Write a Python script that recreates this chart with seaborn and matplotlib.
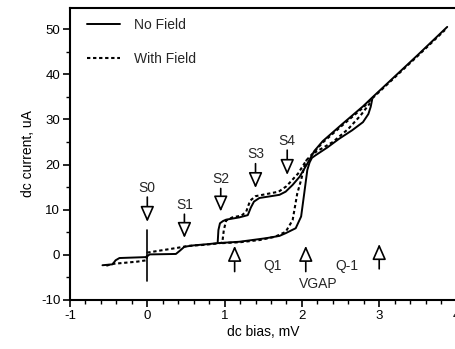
import matplotlib
matplotlib.use("Agg")
import matplotlib.pyplot as plt
import seaborn as sns

# ---- data ----
nofield_main_x = [-0.58, -0.45, -0.41, -0.36, -0.02, 0.0, 0.03, 0.37, 0.42, 0.48, 0.6, 0.8, 0.91,
                  0.92, 0.94, 0.98, 1.02, 1.19, 1.30, 1.34, 1.38, 1.45, 1.60, 1.71, 1.79, 1.88,
                  1.97, 2.07, 2.16, 2.27, 2.53, 2.79, 2.90, 3.2, 3.5, 3.88]
nofield_main_y = [-2.3, -2.1, -1.2, -0.7, -0.5, -0.3, 0.1, 0.2, 0.9, 1.8, 2.1, 2.4, 2.6,
                  5.5, 7.0, 7.5, 7.8, 8.3, 8.8, 10.5, 11.8, 12.6, 13.0, 13.3, 14.0, 15.5,
                  17.3, 20.2, 23.0, 25.2, 29.1, 32.9, 34.7, 39.5, 44.3, 50.5]
nofield_lower_x = [0.91, 1.0, 1.19, 1.54, 1.71, 1.79, 1.92, 1.99, 2.03, 2.07, 2.10, 2.13,
                   2.18, 2.33, 2.48, 2.65, 2.79, 2.86, 2.89, 2.91]
nofield_lower_y = [2.6, 2.7, 2.9, 3.7, 4.2, 4.8, 5.9, 8.5, 13.6, 18.8, 20.5, 21.5,
                   22.1, 23.8, 25.7, 27.6, 29.4, 31.2, 32.8, 34.5]

field_main_x = [-0.53, -0.45, -0.32, -0.13, -0.01, 0.0, 0.11, 0.22, 0.37, 0.54, 0.72, 0.9, 0.97,
                0.99, 1.02, 1.1, 1.22, 1.28, 1.33, 1.40, 1.55, 1.70, 1.80, 1.95, 2.06, 2.16,
                2.27, 2.53, 2.79, 2.90, 3.2, 3.5, 3.85]
field_main_y = [-2.4, -2.0, -1.8, -1.5, -1.2, 0.5, 0.8, 1.1, 1.5, 2.0, 2.2, 2.5, 2.7,
                5.5, 7.6, 8.3, 8.7, 9.6, 12.0, 13.0, 13.5, 14.0, 15.2, 18.0, 21.0, 22.8,
                24.9, 28.8, 32.6, 34.5, 39.3, 44.1, 49.8]
field_lower_x = [0.97, 1.2, 1.46, 1.65, 1.79, 1.88, 1.94, 1.99, 2.03, 2.06]
field_lower_y = [2.6, 2.8, 3.3, 4.0, 5.1, 7.7, 13.6, 16.6, 19.5, 21.0]
field_loop_x = [2.16, 2.4, 2.6, 2.76, 2.88]
field_loop_y = [22.6, 25.0, 27.9, 30.9, 33.6]

series_labels = ["No Field", "With Field"]

down_labels = ["S0", "S1", "S2", "S3", "S4"]
down_x = [0.0, 0.48, 0.95, 1.40, 1.81]
down_tail = [12.8, 9.0, 14.7, 20.2, 23.2]
down_tip = [7.3, 3.75, 9.6, 14.8, 17.7]

up_x = [1.13, 2.05, 3.0]
up_tip = [2.0, 2.0, 2.4]
up_tail = [-3.7, -3.7, -3.1]

text_labels = ["Q1", "VGAP", "Q-1"]
text_x = [1.62, 2.21, 2.58]
text_y = [-2.4, -6.4, -2.4]

zero_line_x = [0.0, 0.0]
zero_line_y = [-5.7, 5.5]

# ---- style ----
sns.set_theme(style="ticks")
plt.rcParams["font.family"] = ["Liberation Sans", "DejaVu Sans"]
plt.rcParams["axes.unicode_minus"] = False

fig = plt.figure(figsize=(4.56, 3.49), dpi=100)
W, H = 456, 349
ax = fig.add_axes([70 / W, 49 / H, 386.5 / W, 292.5 / H])

solid = dict(color="black", lw=1.4, linestyle="-")
dotted = dict(color="black", lw=1.5, linestyle=(0, (1.6, 1.3)))

sns.lineplot(x=nofield_main_x, y=nofield_main_y, sort=False, ax=ax, label=series_labels[0], **solid)
sns.lineplot(x=nofield_lower_x, y=nofield_lower_y, sort=False, ax=ax, **solid)
sns.lineplot(x=field_main_x, y=field_main_y, sort=False, ax=ax, label=series_labels[1], **dotted)
sns.lineplot(x=field_lower_x, y=field_lower_y, sort=False, ax=ax, **dotted)
sns.lineplot(x=field_loop_x, y=field_loop_y, sort=False, ax=ax, **dotted)
ax.plot(zero_line_x, zero_line_y, color="black", lw=1.2)

arrow_style = "-|>,head_length=0.95,head_width=0.42"
for lab, x, t0, t1 in zip(down_labels, down_x, down_tail, down_tip):
    ax.annotate("", xy=(x, t1), xytext=(x, t0),
                arrowprops=dict(arrowstyle=arrow_style, fc="white", ec="black", lw=1.2,
                                shrinkA=0, shrinkB=0, mutation_scale=10))
    ax.text(x, t0 + 0.5, lab, ha="center", va="bottom", fontsize=10)

for x, t1, t0 in zip(up_x, up_tip, up_tail):
    ax.annotate("", xy=(x, t1), xytext=(x, t0),
                arrowprops=dict(arrowstyle=arrow_style, fc="white", ec="black", lw=1.2,
                                shrinkA=0, shrinkB=0, mutation_scale=10))

for lab, x, y in zip(text_labels, text_x, text_y):
    ax.text(x, y, lab, ha="center", va="center", fontsize=10)

ax.set_xlim(-1, 4)
ax.set_ylim(-10, 54.8)
ax.set_xticks([-1, 0, 1, 2, 3, 4])
ax.set_yticks([-10, 0, 10, 20, 30, 40, 50])
ax.set_xticks([i * 0.2 - 1 for i in range(26)], minor=True)
ax.set_yticks([-5, 5, 15, 25, 35, 45], minor=True)
ax.tick_params(axis="both", which="major", direction="out", length=5, width=1.2,
               labelsize=9.5, color="black", labelcolor="black", pad=2)
ax.tick_params(axis="both", which="minor", direction="out", length=3, width=1.0, color="black")

for s in ["left", "bottom", "top"]:
    ax.spines[s].set_color("black")
    ax.spines[s].set_linewidth(1.5)
ax.spines["right"].set_visible(False)

ax.set_xlabel("dc bias, mV", fontsize=10, color="black", labelpad=2)
ax.set_ylabel("dc current, uA", fontsize=10, color="black", labelpad=4)

leg = ax.legend(loc="upper left", bbox_to_anchor=(0.044, 0.964), frameon=False,
                borderaxespad=0, borderpad=0, fontsize=10, handlelength=2.4,
                handletextpad=0.95, labelspacing=1.45)

fig.savefig("out.png", dpi=100)
